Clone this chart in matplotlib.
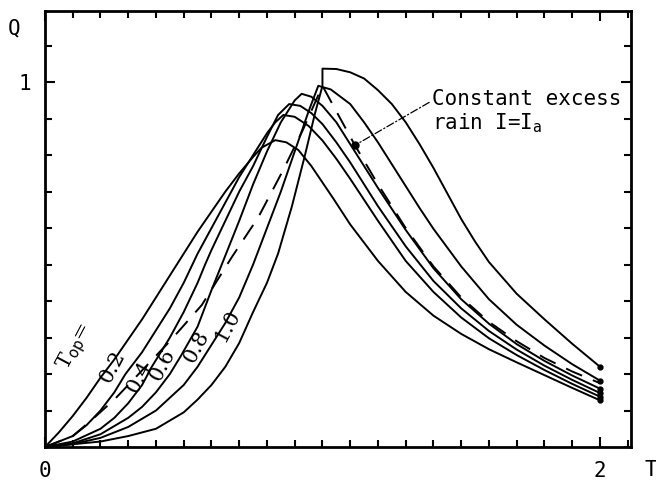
import matplotlib
matplotlib.use("Agg")
import matplotlib.pyplot as plt
from matplotlib.ticker import MultipleLocator, FixedLocator

# ---- data (T, Q) ----
t_02 = [0, .05, .1, .15, .2, .25, .3, .35, .4, .45, .5, .55, .6, .65, .7, .75, .78, .83, .87, .913, .96, 1.0, 1.04, 1.1, 1.2, 1.3, 1.4, 1.5, 1.6, 1.7, 1.8, 1.9, 2.0]
q_02 = [0, .04, .085, .135, .19, .24, .295, .35, .41, .47, .53, .59, .645, .70, .75, .795, .82, .841, .835, .814, .77, .725, .68, .61, .51, .425, .36, .31, .268, .232, .197, .162, .128]

t_04 = [0, .1, .15, .2, .25, .29, .35, .4, .45, .5, .55, .6, .65, .7, .75, .8, .83, .859, .9, .95, 1.0, 1.05, 1.1, 1.2, 1.3, 1.4, 1.5, 1.6, 1.7, 1.8, 1.9, 2.0]
q_04 = [0, .03, .06, .10, .15, .20, .26, .32, .38, .45, .53, .60, .67, .74, .80, .86, .89, .91, .905, .88, .84, .79, .735, .62, .51, .425, .355, .298, .252, .211, .173, .138]

t_06 = [0, .1, .2, .25, .3, .35, .385, .45, .5, .55, .577, .6, .65, .7, .75, .8, .84, .88, .92, .96, 1.0, 1.05, 1.1, 1.2, 1.3, 1.4, 1.5, 1.6, 1.7, 1.8, 1.9, 2.0]
q_06 = [0, .015, .05, .08, .12, .17, .22, .30, .37, .45, .50, .54, .62, .70, .77, .85, .91, .94, .935, .915, .885, .835, .78, .66, .55, .455, .38, .318, .267, .223, .184, .148]

t_08 = [0, .1, .2, .3, .35, .4, .45, .49, .55, .6, .637, .7, .75, .8, .85, .9, .925, .96, 1.0, 1.05, 1.1, 1.15, 1.2, 1.3, 1.4, 1.5, 1.6, 1.7, 1.8, 1.9, 2.0]
q_08 = [0, .01, .035, .08, .11, .15, .20, .25, .33, .43, .50, .62, .72, .81, .89, .95, .968, .96, .935, .89, .83, .77, .71, .595, .49, .405, .338, .282, .236, .196, .16]

t_10 = [0, .1, .2, .3, .4, .5, .55, .6, .65, .7, .75, .8, .85, .9, .95, .985, 1.03, 1.1, 1.15, 1.2, 1.25, 1.3, 1.35, 1.4, 1.5, 1.6, 1.7, 1.8, 1.9, 2.0]
q_10 = [0, .008, .025, .055, .10, .17, .22, .28, .34, .41, .50, .60, .70, .81, .92, .99, .98, .94, .89, .835, .775, .715, .655, .598, .495, .405, .335, .278, .227, .182]

t_top = [0, .2, .3, .4, .5, .55, .6, .65, .7, .75, .8, .84, .89, .937, .973, 1.0, 1.0, 1.05, 1.1, 1.15, 1.2, 1.25, 1.3, 1.35, 1.4, 1.45, 1.5, 1.55, 1.6, 1.7, 1.8, 1.9, 2.0]
q_top = [0, .015, .03, .05, .095, .13, .17, .22, .285, .37, .45, .53, .66, .80, .914, .99, 1.037, 1.036, 1.027, 1.01, .978, .94, .89, .83, .765, .695, .625, .563, .507, .42, .35, .283, .22]

t_const = [0, .1, .168, .25, .35, .45, .565, .673, .769, .859, .93, 1.0, 1.05, 1.117, 1.2, 1.3, 1.4, 1.5, 1.6, 1.7, 1.8, 1.9, 2.0]
q_const = [0, .03, .074, .13, .21, .29, .389, .52, .63, .76, .87, .99, .92, .827, .72, .60, .495, .41, .343, .29, .244, .207, .175]

tp_labels = ["0.2", "0.4", "0.6", "0.8", "1.0"]
tp_label_pos = [(0.245, 0.219), (0.342, 0.192), (0.425, 0.225), (0.548, 0.274), (0.656, 0.334)]

annot_point = (1.117, 0.827)
annot_text = "Constant excess\nrain I=I$_{\\mathrm{a}}$"

fig = plt.figure(figsize=(6.56, 4.83), dpi=100)
ax = fig.add_axes([45/656, 1-447/483, (631-45)/656, (447-11)/483])

lw = 1.4
curves = [(t_02, q_02), (t_04, q_04), (t_06, q_06), (t_08, q_08), (t_10, q_10), (t_top, q_top)]
for t, q in curves:
    ax.plot(t, q, color="black", lw=lw, solid_joinstyle="round", solid_capstyle="round")
    ax.plot([t[-1]], [q[-1]], "o", color="black", ms=3.5)
ax.plot(t_const, q_const, color="black", lw=lw, dashes=(9, 6))

ax.set_xlim(0, 2.112)
ax.set_ylim(0, 1.195)

for s in ax.spines.values():
    s.set_linewidth(2.0)

ax.xaxis.set_major_locator(FixedLocator([0, 2]))
ax.xaxis.set_minor_locator(MultipleLocator(0.1))
ax.yaxis.set_major_locator(FixedLocator([1]))
ax.yaxis.set_minor_locator(MultipleLocator(0.1))
ax.tick_params(which="both", direction="in", top=True, right=True, width=1.5)
ax.tick_params(which="major", length=7, labelsize=15, pad=10)
ax.tick_params(which="minor", length=5)
ax.set_xticklabels(["0", "2"], family="DejaVu Sans Mono")
ax.set_yticklabels(["1"], family="DejaVu Sans Mono")

fig.text(14/656, 1-28/483, "Q", fontsize=15, family="DejaVu Sans Mono", ha="center", va="center")
fig.text(651/656, 1-470/483, "T", fontsize=15, family="DejaVu Sans Mono", ha="center", va="center")

ax.text(0.108, 0.274, "T$_{\\mathrm{op}}$=", fontsize=15, family="DejaVu Serif", rotation=62,
        ha="center", va="center")
for lab, (x, y) in zip(tp_labels, tp_label_pos):
    ax.text(x, y, lab, fontsize=15, family="DejaVu Serif", rotation=62, ha="center", va="center")

ax.plot([annot_point[0]], [annot_point[1]], "o", color="black", ms=5)
ax.annotate(annot_text, xy=annot_point, xytext=((432-45)/277.5, (447-112)/365),
            fontsize=15, family="DejaVu Sans Mono", ha="left", va="center", linespacing=1.1,
            arrowprops=dict(arrowstyle="-", lw=0.9, linestyle=(0, (6, 2, 1, 2)), color="black",
                            shrinkA=0, shrinkB=0, relpos=(0, 0.75)))

fig.savefig("out.png", dpi=100)
